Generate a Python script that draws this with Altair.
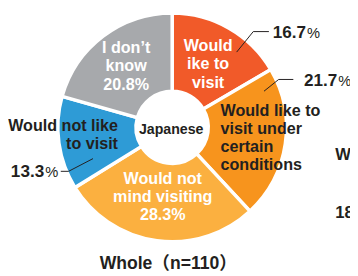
import altair as alt
import pandas as pd

# ---- data ----
categories = ["Would like to visit", "Would like to visit under certain conditions",
              "Would not mind visiting", "Would not like to visit", "I don't know"]
values = [16.7, 21.7, 28.3, 13.3, 20.8]
colors = ["#F15A29", "#F7941D", "#FBB040", "#2E9BD6", "#A7A9AC"]
slice_labels = ["Would\nike to\nvisit",
                "Would like to\nvisit under\ncertain\nconditions",
                "Would not\nmind visiting\n28.3%",
                "Would not like\nto visit",
                "I don’t\nknow\n20.8%"]
outside_pct = ["16.7", "21.7", None, "13.3", None]
center_label = "Japanese"
title_text = "Whole（n=110）"

# ---- layout ----
W, H = 350, 268
CX, CY = 168, 119
R_OUT, R_IN = 117, 37
FONT = "Liberation Sans"
DARK = "#231F20"
LH = 18.5
FS = 16.5

# per-slice label style: radius, align, colour, extra dy
label_layout = [
    dict(r=74, align="center", color="white", dy=0),
    dict(r=50, align="left", color=DARK, dy=4),
    dict(r=72, align="center", color="white", dy=0),
    dict(r=56, align="right", color=DARK, dy=0),
    dict(r=78, align="center", color="white", dy=0),
]
# leader lines (annotation geometry) and outside percentage anchors
leaders = {
    0: [(234, 42), (251, 21), (267, 21)],
    1: [(262, 82), (277, 70), (292, 70)],
    3: [(87, 151), (62, 164), (54, 164)],
}
pct_anchor = {0: (305, 23), 1: (337, 72), 3: (37, 165)}

df = pd.DataFrame({"cat": categories, "value": values, "color": colors,
                   "order": list(range(len(values))), "lab": slice_labels})

base = (alt.Chart(df)
        .transform_joinaggregate(total="sum(value)")
        .transform_window(cum="sum(value)", sort=[alt.SortField("order")], frame=[None, 0])
        .transform_calculate(t1="datum.cum / datum.total * 2 * PI",
                             t0="(datum.cum - datum.value) / datum.total * 2 * PI")
        .transform_calculate(mid="(datum.t0 + datum.t1) / 2"))

arcs = base.mark_arc(outerRadius=R_OUT, innerRadius=R_IN, stroke="white", strokeWidth=3.5).encode(
    theta=alt.Theta("t0:Q", scale=None),
    theta2=alt.Theta2("t1:Q"),
    color=alt.Color("color:N", scale=None),
    x=alt.value(CX), y=alt.value(CY),
)

layers = [arcs]
for i, lay in enumerate(label_layout):
    n_lines = slice_labels[i].count("\n") + 1
    t = base.transform_filter(alt.datum.order == i).mark_text(
        radius=lay["r"], align=lay["align"], baseline="middle",
        dy=lay["dy"] - (n_lines - 1) * LH / 2,
        font=FONT, fontSize=FS, fontWeight="bold", lineHeight=LH,
        lineBreak="\n", color=lay["color"],
    ).encode(theta=alt.Theta("mid:Q", scale=None), text="lab:N",
             x=alt.value(CX), y=alt.value(CY))
    layers.append(t)

# leader lines
rows = []
for k, pts in leaders.items():
    for j, (px, py) in enumerate(pts):
        rows.append({"g": k, "j": j, "px": px, "py": py})
lead_df = pd.DataFrame(rows)
lead = alt.Chart(lead_df).mark_line(color=DARK, strokeWidth=1).encode(
    x=alt.X("px:Q", scale=None), y=alt.Y("py:Q", scale=None),
    detail="g:N", order="j:Q")
layers.append(lead)

# outside percentages
for k, (ax, ay) in pct_anchor.items():
    d = pd.DataFrame({"num": [outside_pct[k]], "pc": ["%"]})
    layers.append(alt.Chart(d).mark_text(align="right", baseline="middle", font=FONT,
                                         fontSize=17.5, fontWeight="bold", color=DARK)
                  .encode(text="num:N", x=alt.value(ax), y=alt.value(ay)))
    layers.append(alt.Chart(d).mark_text(align="left", baseline="middle", font=FONT,
                                         fontSize=15, fontWeight="normal", color=DARK, dx=1)
                  .encode(text="pc:N", x=alt.value(ax), y=alt.value(ay)))

def note(s, x, y, size, weight="bold", align="center"):
    return alt.Chart(pd.DataFrame({"t": [s]})).mark_text(
        align=align, baseline="middle", font=FONT + ", Noto Sans CJK JP",
        fontSize=size, fontWeight=weight, color=DARK
    ).encode(text="t:N", x=alt.value(x), y=alt.value(y))

layers.append(note(center_label, 167, 122, 14.5))
layers.append(note(title_text, 164, 259, 18))
layers.append(note("W", 335, 147, 17, align="left"))
layers.append(note("18", 335, 207, 17, align="left"))

chart = alt.layer(*layers).properties(
    width=W, height=H, padding=0,
    autosize=alt.AutoSizeParams(type="none"),
    background="white",
).configure_view(stroke=None)

chart.save("out.html", embed_options={"renderer": "svg", "actions": False})
